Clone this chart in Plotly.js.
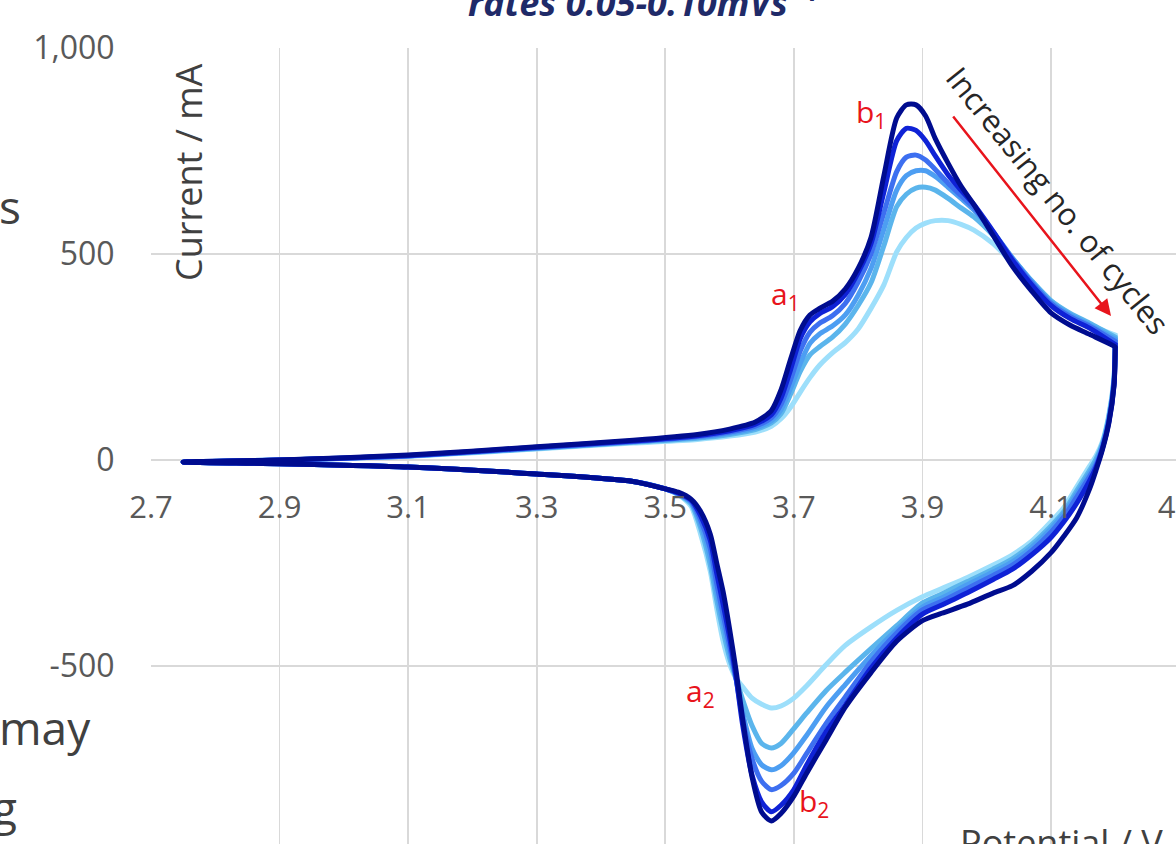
<!DOCTYPE html>
<html>
<head>
<meta charset="utf-8">
<script src="https://cdn.plot.ly/plotly-3.0.1.min.js"></script>
<style>
html,body{margin:0;padding:0;overflow:hidden;background:#fff;}
#chart{position:absolute;left:0;top:0;width:1240px;height:900px;}
</style>
</head>
<body>
<div id="chart"></div>
<script>
// ---- data (Potential / V, Current / mA) ----
const anodicV = [2.75, 2.9, 3.1, 3.3, 3.45, 3.55, 3.6, 3.64, 3.665, 3.68, 3.695, 3.71, 3.725, 3.74, 3.76, 3.78, 3.80, 3.82, 3.84, 3.86, 3.875, 3.89, 3.905, 3.92, 3.94, 3.96, 3.98, 4.01, 4.04, 4.07, 4.10, 4.13, 4.16, 4.2];
const cathodicV = [4.2, 4.198, 4.19, 4.18, 4.17, 4.16, 4.14, 4.12, 4.10, 4.07, 4.04, 4.01, 3.97, 3.93, 3.90, 3.86, 3.82, 3.78, 3.75, 3.72, 3.70, 3.68, 3.665, 3.65, 3.635, 3.62, 3.61, 3.60, 3.59, 3.58, 3.57, 3.555, 3.54, 3.52, 3.50, 3.45, 3.30, 3.10, 2.90, 2.75];

const cycle1Anodic = [-5, 0, 9, 27, 41, 50, 58, 68, 82, 100, 128, 165, 200, 230, 260, 285, 318, 368, 425, 505, 540, 563, 575, 581, 581, 572, 558, 525, 478, 433, 386, 350, 328, 303];
const cycle2Anodic = [-5, 0, 10, 28, 43, 53, 62, 74, 90, 112, 160, 215, 255, 275, 298, 330, 375, 430, 520, 615, 645, 660, 662, 655, 635, 612, 590, 545, 490, 435, 387, 356, 332, 298];
const cycle3Anodic = [-5, 0, 10, 29, 44, 55, 65, 78, 95, 122, 175, 235, 283, 306, 325, 352, 400, 465, 560, 655, 690, 702, 702, 688, 662, 635, 607, 553, 490, 433, 383, 352, 328, 293];
const cycle4Anodic = [-5, 0, 10, 30, 45, 57, 68, 82, 102, 135, 195, 265, 310, 332, 350, 380, 432, 500, 600, 700, 735, 740, 728, 705, 672, 642, 612, 553, 488, 430, 380, 348, 325, 288];
const cycle5Anodic = [-5, 0, 11, 31, 46, 59, 71, 87, 110, 150, 220, 295, 335, 355, 372, 402, 455, 525, 650, 775, 805, 800, 775, 738, 692, 655, 620, 555, 485, 425, 375, 343, 320, 280];
const cycle6Anodic = [-5, 0, 12, 32, 48, 62, 75, 92, 120, 170, 245, 315, 352, 368, 385, 415, 465, 540, 690, 830, 862, 862, 835, 780, 720, 665, 620, 545, 470, 410, 357, 327, 305, 274];

const cycle1Cathodic = [303, 200, 110, 45, 10, -15, -65, -115, -150, -197, -230, -255, -285, -312, -332, -365, -405, -450, -497, -548, -578, -597, -602, -593, -578, -550, -530, -495, -440, -360, -270, -180, -112, -84, -70, -52, -34, -17, -9, -5];
const cycle2Cathodic = [298, 195, 105, 40, 2, -25, -75, -125, -160, -205, -240, -265, -295, -325, -347, -402, -458, -515, -560, -614, -652, -688, -699, -688, -645, -580, -530, -480, -415, -340, -255, -165, -106, -83, -70, -52, -34, -17, -9, -5];
const cycle3Cathodic = [293, 190, 100, 35, -5, -32, -82, -130, -167, -212, -247, -272, -303, -335, -357, -412, -475, -545, -600, -668, -710, -742, -752, -740, -700, -610, -530, -465, -395, -320, -235, -155, -102, -82, -70, -52, -34, -17, -9, -5];
const cycle4Cathodic = [288, 185, 95, 30, -12, -40, -90, -138, -175, -220, -255, -280, -312, -343, -364, -420, -490, -575, -640, -712, -760, -790, -800, -780, -725, -625, -530, -450, -375, -300, -215, -145, -100, -81, -70, -52, -34, -17, -9, -5];
const cycle5Cathodic = [280, 182, 92, 28, -18, -50, -105, -150, -188, -230, -265, -290, -322, -352, -374, -432, -505, -595, -660, -740, -800, -838, -854, -830, -765, -640, -525, -430, -350, -275, -195, -135, -97, -80, -70, -52, -34, -17, -9, -5];
const cycle6Cathodic = [272, 180, 90, 25, -25, -70, -140, -185, -225, -270, -305, -323, -350, -372, -390, -440, -516, -600, -680, -760, -816, -858, -876, -855, -770, -625, -510, -410, -320, -250, -180, -125, -95, -78, -70, -52, -34, -17, -9, -5];

const xTickVals = [2.7, 2.9, 3.1, 3.3, 3.5, 3.7, 3.9, 4.1, 4.3];
const xTickText = ['2.7', '2.9', '3.1', '3.3', '3.5', '3.7', '3.9', '4.1', '4.3'];
const yTickVals = [-1000, -500, 0, 500, 1000];
const yTickText = ['-1,000', '-500', '0', '500', '1,000'];

// ---- styling ----
const colors = ['#9ddffb', '#5bb5ec', '#4d9ef2', '#3d6ff0', '#0f22d6', '#000c8f'];
const anodic = [cycle1Anodic, cycle2Anodic, cycle3Anodic, cycle4Anodic, cycle5Anodic, cycle6Anodic];
const cathodic = [cycle1Cathodic, cycle2Cathodic, cycle3Cathodic, cycle4Cathodic, cycle5Cathodic, cycle6Cathodic];

const traces = anodic.map((a, i) => ({
  type: 'scatter', mode: 'lines',
  x: anodicV.concat(cathodicV),
  y: a.concat(cathodic[i]),
  line: {color: colors[i], width: 5, shape: 'spline', smoothing: 0.7},
  hoverinfo: 'skip', showlegend: false
}));

// pixel -> paper helpers (plot area: left 151, top 48, 1035 x 824)
const FW = 1240, FH = 900;
const L = 151, T = 48, W = 1035, H = 824;
const px = x => (x - L) / W;
const py = y => (T + H - y) / H;

const FONT = '"Open Sans", "DejaVu Sans", sans-serif';
const red = '#e8141c';

const annotations = [
  {text: 'rates 0.05-0.10mVs <sup>-1</sup>', x: px(466), y: py(29), xanchor: 'left', yanchor: 'bottom',
   font: {family: FONT, size: 36, color: '#1f2a68', weight: 700, style: 'italic'}},
  {text: 'Current / mA', textangle: -90, x: px(188), y: py(172), xanchor: 'center', yanchor: 'middle',
   font: {family: FONT, size: 36, color: '#404040'}},
  {text: 'Potential / V', x: px(958), y: py(842), xanchor: 'left', yanchor: 'middle',
   font: {family: FONT, size: 36, color: '#404040'}},
  {text: 'Increasing no. of cycles', textangle: 51, x: px(1058), y: py(200), xanchor: 'center', yanchor: 'middle',
   font: {family: FONT, size: 31, color: '#262626'}},
  {text: '', x: px(1111), y: py(316), ax: 952 - 1111, ay: 115 - 316, showarrow: true,
   arrowhead: 2, arrowsize: 1.3, arrowwidth: 2.5, arrowcolor: red},
  {text: 'a<sub>1</sub>', x: px(785), y: py(295), xanchor: 'center', yanchor: 'middle', font: {family: FONT, size: 30, color: red}},
  {text: 'b<sub>1</sub>', x: px(871), y: py(113), xanchor: 'center', yanchor: 'middle', font: {family: FONT, size: 30, color: red}},
  {text: 'a<sub>2</sub>', x: px(700), y: py(692), xanchor: 'center', yanchor: 'middle', font: {family: FONT, size: 30, color: red}},
  {text: 'b<sub>2</sub>', x: px(814), y: py(802), xanchor: 'center', yanchor: 'middle', font: {family: FONT, size: 30, color: red}},
  {text: 's', x: px(23), y: py(206), xanchor: 'right', yanchor: 'middle', font: {family: FONT, size: 46, color: '#404040'}},
  {text: 'may', x: px(93), y: py(727), xanchor: 'right', yanchor: 'middle', font: {family: FONT, size: 46, color: '#404040'}},
  {text: 'g', x: px(19), y: py(807), xanchor: 'right', yanchor: 'middle', font: {family: FONT, size: 46, color: '#404040'}}
].map(a => Object.assign({xref: 'paper', yref: 'paper', showarrow: false}, a));

const layout = {
  width: FW, height: FH,
  margin: {l: L, r: FW - L - W, t: T, b: FH - T - H, pad: 0},
  paper_bgcolor: '#fff', plot_bgcolor: '#fff',
  showlegend: false,
  xaxis: {
    range: [2.7, 4.31], tickvals: xTickVals, ticktext: xTickText,
    anchor: 'free', position: 0.5,
    showgrid: true, gridcolor: '#d9d9d9', gridwidth: 1.8,
    zeroline: false, showline: false,
    ticks: 'outside', ticklen: 20, tickcolor: 'rgba(0,0,0,0)',
    tickfont: {family: FONT, size: 31, color: '#595959'}
  },
  yaxis: {
    range: [-1000, 1000], tickvals: yTickVals, ticktext: yTickText,
    showgrid: true, gridcolor: '#d9d9d9', gridwidth: 1.8,
    zeroline: false, showline: false,
    ticks: 'outside', ticklen: 29, tickcolor: 'rgba(0,0,0,0)',
    tickfont: {family: FONT, size: 32, color: '#595959'}
  },
  annotations: annotations
};

Plotly.newPlot('chart', traces, layout, {displayModeBar: false, staticPlot: true});
</script>
</body>
</html>
